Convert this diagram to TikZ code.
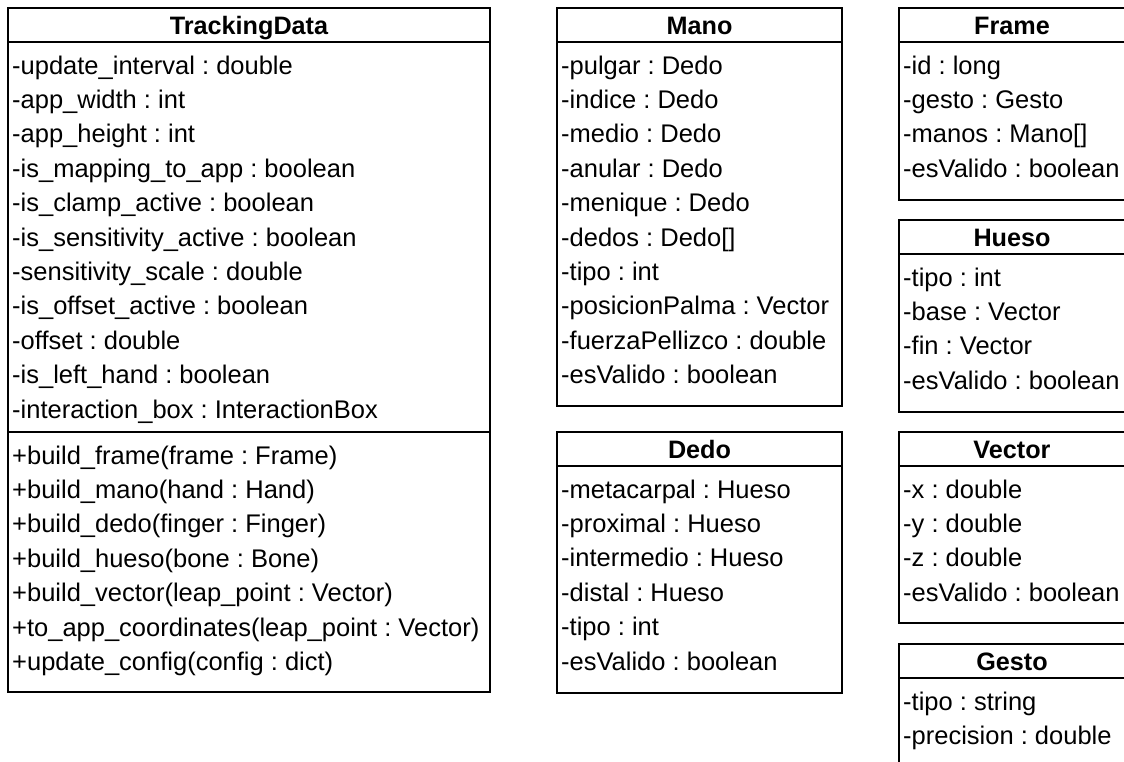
\documentclass[tikz,border=0pt]{standalone}
\usepackage{fontspec}
\setmainfont{Liberation Sans}
\begin{document}
\frenchspacing
\begin{tikzpicture}[x=1pt,y=-1pt,
  box/.style={draw=black, line width=2pt, inner sep=0pt, outer sep=0pt, anchor=north west, fill=none},
  sepline/.style={draw=black, line width=2pt},
  classtitle/.style={font=\fontsize{25.2}{30}\selectfont\bfseries, anchor=base, inner sep=0pt},
  row/.style={font=\fontsize{25.5}{30}\selectfont\frenchspacing, anchor=base west, inner sep=0pt}]
\useasboundingbox (0,0) rectangle (1124,761);
\clip (0,0) rectangle (1124,761);
\fill[white] (0,0) rectangle (1124,761);

% ---------------- TrackingData ----------------
\node[box, minimum width=482pt, minimum height=684pt] (td) at (8,8) {};
\node[classtitle] (tdtitle) at (249,34.5) {TrackingData};
\draw[sepline] (8,42) -- (490,42);
\draw[sepline] (8,432) -- (490,432);
\foreach \t [count=\i] in {
  {-update\_interval : double},
  {-app\_width : int},
  {-app\_height : int},
  {-is\_mapping\_to\_app : boolean},
  {-is\_clamp\_active : boolean},
  {-is\_sensitivity\_active : boolean},
  {-sensitivity\_scale : double},
  {-is\_offset\_active : boolean},
  {-offset : double},
  {-is\_left\_hand : boolean},
  {-interaction\_box : InteractionBox}}
  \node[row] (tda\i) at (12,{74+34.4*(\i-1)}) {\t};
\foreach \t [count=\i] in {
  {+build\_frame(frame : Frame)},
  {+build\_mano(hand : Hand)},
  {+build\_dedo(finger : Finger)},
  {+build\_hueso(bone : Bone)},
  {+build\_vector(leap\_point : Vector)},
  {+to\_app\_coordinates(leap\_point : Vector)},
  {+update\_config(config : dict)}}
  \node[row] (tdm\i) at (12,{464+34.4*(\i-1)}) {\t};

% ---------------- Mano ----------------
\node[box, minimum width=285pt, minimum height=398pt] (mano) at (557,8) {};
\node[classtitle] (manotitle) at (699.5,34.5) {Mano};
\draw[sepline] (557,42) -- (842,42);
\foreach \t [count=\i] in {
  {-pulgar : Dedo},
  {-indice : Dedo},
  {-medio : Dedo},
  {-anular : Dedo},
  {-menique : Dedo},
  {-dedos : Dedo[]},
  {-tipo : int},
  {-posicionPalma : Vector},
  {-fuerzaPellizco : double},
  {-esValido : boolean}}
  \node[row] (manoa\i) at (561,{74+34.4*(\i-1)}) {\t};

% ---------------- Dedo ----------------
\node[box, minimum width=285pt, minimum height=261pt] (dedo) at (557,432) {};
\node[classtitle] (dedotitle) at (699.5,458.5) {Dedo};
\draw[sepline] (557,466) -- (842,466);
\foreach \t [count=\i] in {
  {-metacarpal : Hueso},
  {-proximal : Hueso},
  {-intermedio : Hueso},
  {-distal : Hueso},
  {-tipo : int},
  {-esValido : boolean}}
  \node[row] (dedoa\i) at (561,{498+34.4*(\i-1)}) {\t};

% ---------------- Frame ----------------
\node[box, minimum width=228pt, minimum height=192pt] (frame) at (899,8) {};
\node[classtitle] (frametitle) at (1012,34.5) {Frame};
\draw[sepline] (899,42) -- (1127,42);
\foreach \t [count=\i] in {
  {-id : long},
  {-gesto : Gesto},
  {-manos : Mano[]},
  {-esValido : boolean}}
  \node[row] (framea\i) at (903,{74+34.4*(\i-1)}) {\t};

% ---------------- Hueso ----------------
\node[box, minimum width=228pt, minimum height=192pt] (hueso) at (899,220) {};
\node[classtitle] (huesotitle) at (1012,246.5) {Hueso};
\draw[sepline] (899,254) -- (1127,254);
\foreach \t [count=\i] in {
  {-tipo : int},
  {-base : Vector},
  {-fin : Vector},
  {-esValido : boolean}}
  \node[row] (huesoa\i) at (903,{286+34.4*(\i-1)}) {\t};

% ---------------- Vector ----------------
\node[box, minimum width=228pt, minimum height=191pt] (vector) at (899,432) {};
\node[classtitle] (vectortitle) at (1012,458.5) {Vector};
\draw[sepline] (899,466) -- (1127,466);
\foreach \t [count=\i] in {
  {-x : double},
  {-y : double},
  {-z : double},
  {-esValido : boolean}}
  \node[row] (vectora\i) at (903,{498+34.4*(\i-1)}) {\t};

% ---------------- Gesto ----------------
\node[box, minimum width=228pt, minimum height=150pt] (gesto) at (899,644) {};
\node[classtitle] (gestotitle) at (1012,670.5) {Gesto};
\draw[sepline] (899,678) -- (1127,678);
\foreach \t [count=\i] in {
  {-tipo : string},
  {-precision : double}}
  \node[row] (gestoa\i) at (903,{710+34.4*(\i-1)}) {\t};
\end{tikzpicture}
\end{document}
